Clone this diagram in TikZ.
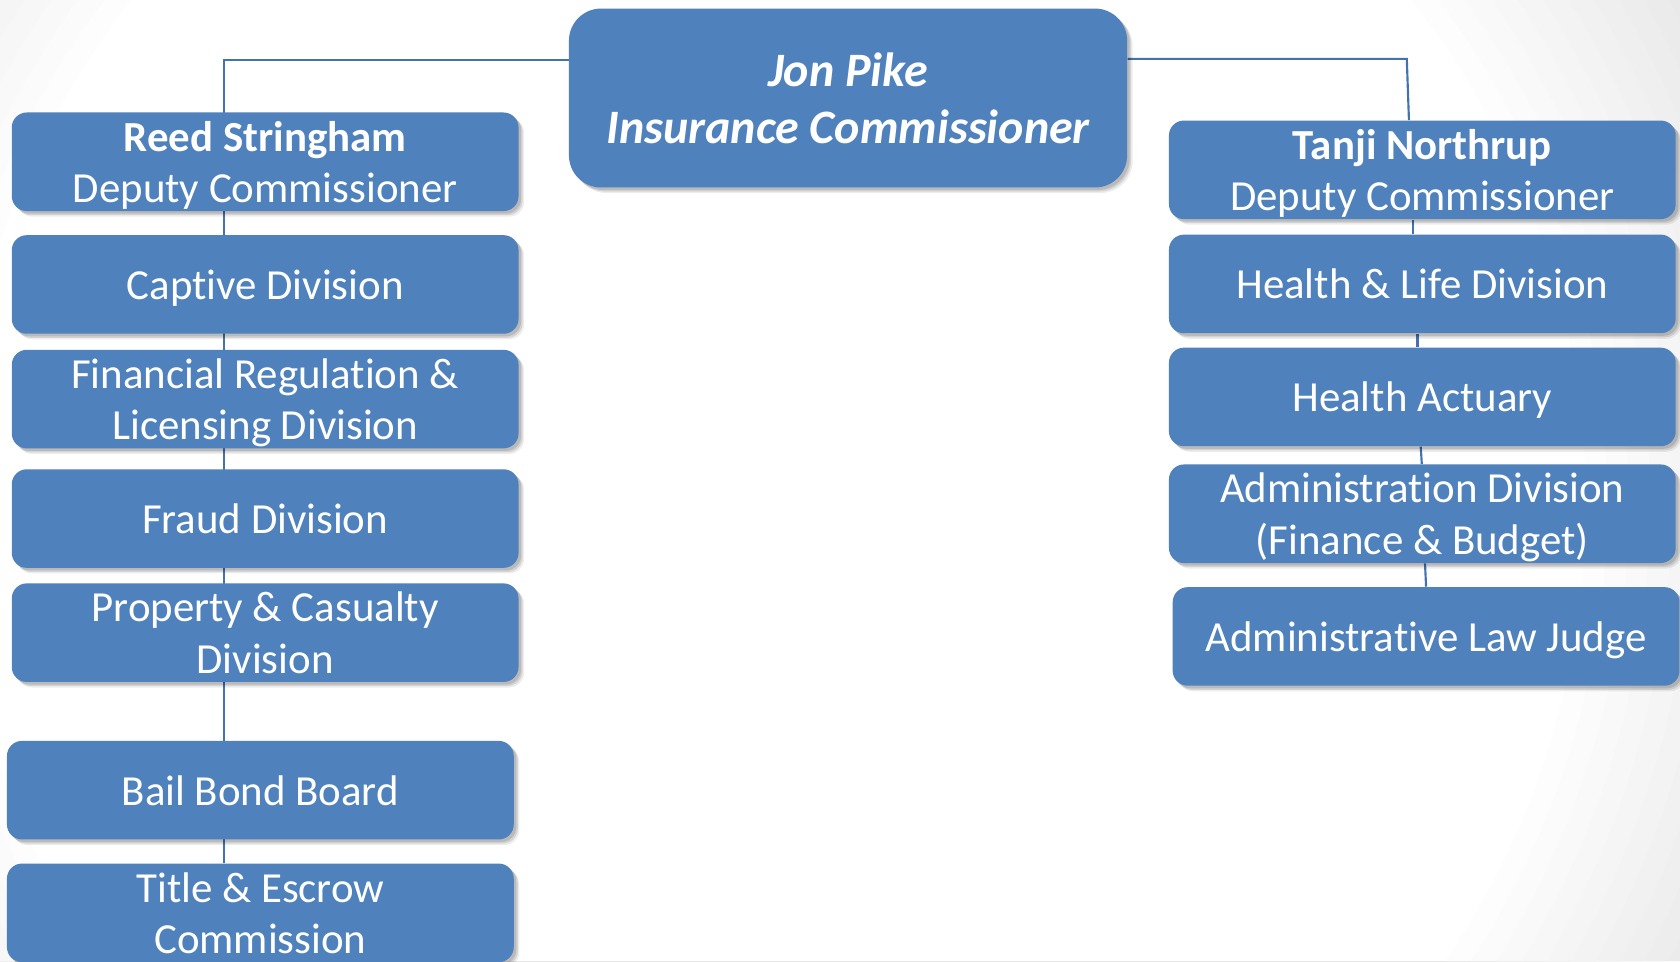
\documentclass[tikz,border=0pt]{standalone}
\usepackage{fontspec}
\setmainfont{Carlito}[Ligatures=NoCommon]
\usetikzlibrary{shadows}
\definecolor{boxblue}{RGB}{79,129,189}
\definecolor{linkblue}{RGB}{68,114,176}
\pgfdeclarelayer{backdrop}
\pgfdeclarelayer{links}
\pgfsetlayers{backdrop,links,main}

\begin{document}
\begin{tikzpicture}[x=0.5pt,y=-0.5pt,
  softshadow/.style={
    general shadow={fill=black, opacity=0.07, shadow xshift=2.6pt, shadow yshift=-2.6pt},
    general shadow={fill=black, opacity=0.10, shadow xshift=1.9pt, shadow yshift=-1.9pt},
    general shadow={fill=black, opacity=0.12, shadow xshift=1.2pt, shadow yshift=-1.2pt}},
  boxbase/.style={draw=none, fill=boxblue, text=white, inner sep=0pt, align=center,
    text depth=0pt, softshadow},
  unit/.style={boxbase, rounded corners=7pt,
    minimum width=236.5pt, minimum height=46pt,
    font=\fontsize{20}{24}\selectfont},
  head/.style={boxbase, rounded corners=15pt, minimum width=260.5pt, minimum height=83.5pt,
    font=\fontsize{22.4}{26.5}\selectfont\bfseries\itshape},
  link/.style={draw=linkblue, line width=1pt}]

\useasboundingbox (0,0) rectangle (1568,897);

% page backdrop: white, greying softly towards the outer corners
\begin{pgfonlayer}{backdrop}
  \fill[white] (0,0) rectangle (1568,897);
  \foreach \r in {760,780,...,980}
    \fill[black, opacity=0.0065, even odd rule]
      (0,0) rectangle (1568,897) (720,470) circle (\r);
\end{pgfonlayer}

% commissioner
\node[head] (chief) at (791.5,91.5) {Jon Pike\\Insurance Commissioner};

% left branch
\node[unit] (reed)    at (247.5,151)   {\textbf{Reed Stringham}\\Deputy Commissioner};
\node[unit] (captive) at (247.5,265.5) {Captive Division};
\node[unit] (finreg)  at (247.5,372.5) {Financial Regulation \&\\Licensing Division};
\node[unit] (fraud)   at (247.5,484)   {Fraud Division};
\node[unit] (propcas) at (247.5,590.5) {Property \& Casualty\\Division};
\node[unit] (bail)    at (243,737.5)   {Bail Bond Board};
\node[unit] (title)   at (243,852)     {Title \& Escrow\\Commission};

% right branch
\node[unit] (tanji)   at (1327.5,158.5) {\textbf{Tanji Northrup}\\Deputy Commissioner};
\node[unit] (health)  at (1327.5,265)   {Health \& Life Division};
\node[unit] (actuary) at (1327.5,370.5) {Health Actuary};
\node[unit] (admin)   at (1327.5,479.5) {Administration Division\\(Finance \& Budget)};
\node[unit] (alj)     at (1331,594)     {Administrative Law Judge};

% reporting lines, kept behind the boxes
\begin{pgfonlayer}{links}
  \coordinate (lbend) at (209,56);
  \coordinate (rbend) at (1313,55);
  \draw[link] (chief.west |- lbend) -- (lbend) -- (lbend |- title.north);
  \draw[link] (chief.east |- rbend) -- (rbend) -- (1315,0 |- tanji.north);
  \draw[link] (1319,0 |- tanji.south) -- (1319,0 |- health.north);
  \draw[link] (1323,0 |- health.south) -- (1323,0 |- actuary.north);
  \draw[link] (1326,0 |- actuary.south) -- (1327,0 |- admin.north);
  \draw[link] (1330,0 |- admin.south) -- (1331,0 |- alj.north);
\end{pgfonlayer}

\end{tikzpicture}
\end{document}
